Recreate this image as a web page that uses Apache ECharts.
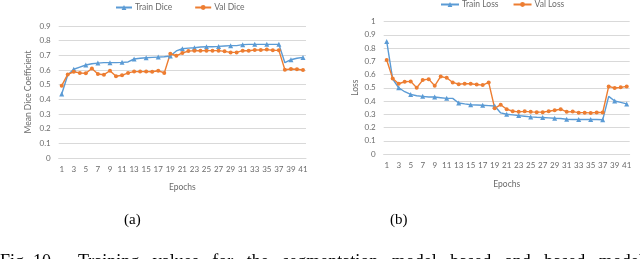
<!DOCTYPE html>
<html><head><meta charset="utf-8">
<script src="https://cdn.jsdelivr.net/npm/echarts@6/dist/echarts.min.js"></script>
<style>html,body{margin:0;padding:0;background:#fff}#c{width:640px;height:259px}</style>
</head><body><div id="c"></div>
<script>
const epochs = Array.from({length:41},(_,i)=>String(i+1));
const trainDice = [0.436,0.566,0.605,0.62,0.634,0.643,0.647,0.65,0.65,0.65,0.652,0.655,0.675,0.68,0.684,0.686,0.688,0.69,0.695,0.73,0.745,0.749,0.752,0.757,0.759,0.759,0.761,0.764,0.766,0.766,0.773,0.775,0.775,0.775,0.775,0.775,0.775,0.65,0.67,0.68,0.686];
const valDice = [0.493,0.57,0.588,0.58,0.578,0.61,0.573,0.568,0.595,0.557,0.564,0.58,0.589,0.589,0.589,0.588,0.595,0.58,0.711,0.697,0.716,0.729,0.732,0.731,0.732,0.732,0.732,0.727,0.72,0.72,0.732,0.731,0.736,0.736,0.739,0.735,0.734,0.602,0.607,0.605,0.60];
const trainLoss = [0.85,0.565,0.50,0.47,0.45,0.44,0.435,0.43,0.43,0.425,0.42,0.42,0.385,0.378,0.372,0.37,0.368,0.365,0.362,0.31,0.30,0.295,0.29,0.285,0.28,0.277,0.275,0.273,0.27,0.268,0.262,0.26,0.26,0.26,0.26,0.26,0.258,0.435,0.40,0.39,0.378];
const valLoss = [0.71,0.57,0.53,0.545,0.548,0.50,0.558,0.565,0.515,0.585,0.575,0.54,0.527,0.53,0.53,0.525,0.52,0.54,0.345,0.372,0.338,0.323,0.318,0.322,0.318,0.316,0.316,0.323,0.33,0.338,0.318,0.32,0.312,0.312,0.31,0.313,0.313,0.51,0.498,0.503,0.51];
const seriesNames = ['Train Dice','Val Dice','Train Loss','Val Loss'];
const axisNames = {x:'Epochs', yA:'Mean Dice Coefficient', yB:'Loss'};
const captions = ['(a)','(b)'];
const figCaption = 'Fig. 10.     Training   values   for   the   segmentation   model   based   and   based   model';

const BLUE='#5B9BD5', ORANGE='#ED7D31', TXT='#6b6b6b', GRID='#d9d9d9';
const FONT='Lato';
const chart = echarts.init(document.getElementById('c'), null, {renderer:'canvas'});
function xAxis(gi){return {type:'category',gridIndex:gi,data:epochs,boundaryGap:true,
  axisTick:{show:false},axisLine:{lineStyle:{color:GRID}},
  axisLabel:{interval:1,color:TXT,fontSize:8,fontFamily:FONT,margin:7},
  name:axisNames.x,nameLocation:'middle',nameGap:gi===0?25:26,nameTextStyle:{color:TXT,fontSize:8.5,fontFamily:FONT}};}
function yAxis(gi,max,name,gap){return {type:'value',gridIndex:gi,min:0,max:max,interval:0.1,
  axisLine:{show:false},axisTick:{show:false},splitLine:{lineStyle:{color:GRID,width:1}},
  axisLabel:{color:TXT,fontSize:8,fontFamily:FONT,margin:8,formatter:v=>String(Math.round(v*10)/10)},
  name:name,nameLocation:'middle',nameGap:gap,nameRotate:90,nameTextStyle:{color:TXT,fontSize:8.5,fontFamily:FONT}};}
function line(name,data,gi,color,sym,size){return {name,type:'line',xAxisIndex:gi,yAxisIndex:gi,data,
  symbol:sym,symbolSize:size,showSymbol:true,lineStyle:{color,width:1.4},itemStyle:{color},animation:false};}
chart.setOption({
  animation:false,
  grid:[{left:58.7,top:26,width:247.3,height:132},{left:383.7,top:21.5,width:246,height:132.5}],
  legend:[
    {data:[seriesNames[0],seriesNames[1]],left:110,top:0,padding:[3,5,3,5],itemWidth:16,itemHeight:6,itemGap:22,
     textStyle:{color:TXT,fontSize:8.5,fontFamily:FONT,padding:[0,0,0,-2]}},
    {data:[seriesNames[2],seriesNames[3]],left:435,top:0,padding:[0,5,0,5],itemWidth:18,itemHeight:6,itemGap:14,
     textStyle:{color:TXT,fontSize:8.5,fontFamily:FONT,padding:[0,0,0,-2]}}],
  xAxis:[xAxis(0),xAxis(1)],
  yAxis:[yAxis(0,0.9,axisNames.yA,26),yAxis(1,1,axisNames.yB,24)],
  series:[line(seriesNames[0],trainDice,0,BLUE,'triangle',5),line(seriesNames[1],valDice,0,ORANGE,'circle',4),
          line(seriesNames[2],trainLoss,1,BLUE,'triangle',5),line(seriesNames[3],valLoss,1,ORANGE,'circle',4)],
  graphic:[
    {type:'text',x:124,y:213,style:{text:captions[0],font:'15px "Liberation Serif"',fill:'#000'}},
    {type:'text',x:390,y:213,style:{text:captions[1],font:'15px "Liberation Serif"',fill:'#000'}},
    {type:'text',x:0,y:253,style:{text:figCaption,font:'18px "Liberation Serif"',fill:'#000'}}
  ]
});
</script></body></html>
